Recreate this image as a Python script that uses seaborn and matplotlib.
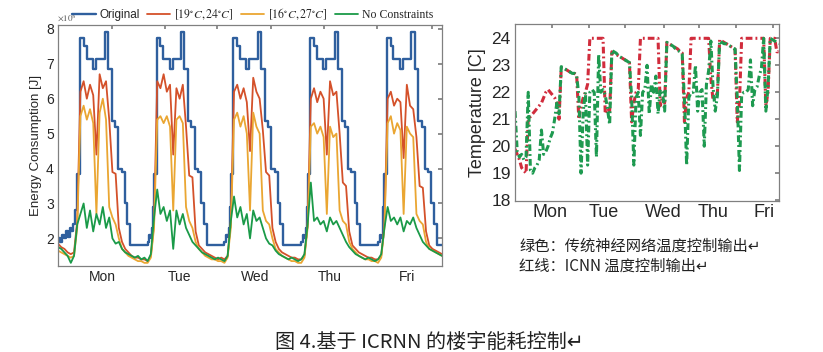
import matplotlib
matplotlib.use("Agg")
import matplotlib.pyplot as plt
import seaborn as sns

# ---------------- data (left: energy consumption, x in hours) ----------------
hours = list(range(121))

blue_t = [0, 0.6, 1.2, 1.8, 2.4, 3.0, 3.6, 4.2, 4.8, 5.4, 5.8, 6.9, 8.1, 9.0, 11.0, 11.9, 14.6, 15.6, 16.8, 17.8, 18.8, 19.9, 20.9, 21.7, 22.6,
          28.0, 28.5, 29.0, 29.4, 29.8, 30.0, 30.8, 32.0, 32.9, 34.9, 35.8, 38.5, 39.5, 40.7, 41.7, 42.7, 43.8, 44.8, 45.6, 46.5,
          52.0, 52.5, 53.0, 53.4, 53.7, 54.0, 54.7, 55.9, 56.8, 58.8, 59.7, 62.4, 63.4, 64.6, 65.6, 66.6, 67.7, 68.7, 69.5, 70.4,
          76.0, 76.5, 77.0, 77.4, 77.7, 78.0, 78.7, 79.9, 80.8, 82.8, 83.7, 86.4, 87.4, 88.6, 89.6, 90.6, 91.7, 92.7, 93.5, 94.4,
          100.0, 100.5, 101.0, 101.4, 101.7, 102.0, 102.7, 103.9, 104.8, 106.8, 107.7, 110.4, 111.4, 112.6, 113.6, 114.6, 115.6, 116.6, 117.4, 118.3, 120.0]
blue_v = [2.0, 1.9, 2.1, 2.0, 2.2, 2.05, 2.3, 2.2, 2.4, 2.8, 3.85, 7.75, 7.5, 7.15, 6.85, 7.15, 7.9, 6.85, 5.35, 5.2, 4.0, 3.9, 3.0, 2.4, 1.8,
          1.9, 2.1, 2.0, 2.3, 2.9, 3.85, 7.75, 7.5, 7.15, 6.85, 7.15, 7.9, 6.85, 5.35, 5.2, 4.0, 3.9, 3.0, 2.4, 1.8,
          1.9, 2.1, 2.05, 2.3, 2.9, 3.85, 7.75, 7.5, 7.15, 6.85, 7.15, 7.9, 6.85, 5.35, 5.2, 4.0, 3.9, 3.0, 2.4, 1.8,
          1.9, 2.1, 2.0, 2.3, 2.9, 3.85, 7.75, 7.5, 7.15, 6.85, 7.15, 7.9, 6.85, 5.35, 5.2, 4.0, 3.9, 3.0, 2.4, 1.8,
          1.9, 2.1, 2.0, 2.3, 2.9, 3.85, 7.75, 7.5, 7.15, 6.85, 7.15, 7.9, 6.85, 5.35, 5.2, 4.0, 3.9, 3.0, 2.4, 1.8, 1.8]

red_e = [1.85, 1.75, 1.7, 1.6, 1.55, 1.6, 2.5, 6.2, 6.5, 6.0, 6.4, 6.1, 4.4, 6.7, 6.3, 6.5, 5.4, 3.9, 3.85, 2.3, 1.9, 1.7, 1.6, 1.5,
         1.45, 1.45, 1.4, 1.4, 1.35, 1.5, 2.4, 6.5, 6.3, 6.7, 6.2, 6.4, 4.4, 6.3, 6.0, 6.4, 5.2, 3.8, 3.75, 2.2, 1.8, 1.7, 1.6, 1.55,
         1.5, 1.45, 1.4, 1.45, 1.4, 1.5, 2.5, 6.2, 6.4, 6.0, 6.3, 5.9, 4.5, 6.6, 6.2, 6.0, 5.1, 3.9, 3.8, 2.3, 1.9, 1.7, 1.6, 1.55,
         1.5, 1.45, 1.45, 1.4, 1.4, 1.5, 2.4, 6.0, 6.3, 5.9, 6.2, 6.0, 4.4, 6.5, 6.1, 6.2, 5.0, 3.6, 3.5, 2.2, 1.8, 1.7, 1.6, 1.55,
         1.5, 1.45, 1.45, 1.4, 1.4, 1.5, 2.4, 6.0, 6.2, 5.8, 6.0, 5.9, 4.3, 6.4, 5.8, 5.7, 4.9, 3.5, 3.45, 2.2, 1.8, 1.7, 1.65, 1.6, 1.55]

orange_e = [1.65, 1.6, 1.55, 1.5, 1.45, 1.5, 2.3, 5.5, 5.8, 5.4, 5.7, 5.3, 2.7, 5.6, 6.0, 5.4, 2.9, 2.6, 2.4, 2.0, 1.7, 1.6, 1.5, 1.45,
            1.4, 1.35, 1.35, 1.3, 1.3, 1.45, 2.3, 5.4, 5.5, 5.3, 5.5, 5.2, 2.8, 5.4, 5.5, 5.3, 2.9, 2.5, 2.3, 1.9, 1.7, 1.6, 1.5, 1.45,
            1.4, 1.4, 1.35, 1.35, 1.3, 1.45, 2.3, 5.4, 5.6, 5.2, 5.5, 5.0, 2.8, 5.6, 5.2, 5.0, 2.8, 2.5, 2.4, 2.0, 1.7, 1.6, 1.5, 1.45,
            1.4, 1.35, 1.35, 1.3, 1.3, 1.45, 2.3, 5.2, 5.3, 5.0, 5.2, 4.9, 2.7, 5.2, 4.9, 5.0, 2.8, 2.5, 2.4, 1.9, 1.7, 1.6, 1.5, 1.45,
            1.4, 1.4, 1.35, 1.35, 1.3, 1.45, 2.3, 5.3, 5.5, 5.0, 5.3, 5.1, 2.7, 5.2, 5.0, 4.9, 2.7, 2.5, 2.4, 1.9, 1.7, 1.65, 1.6, 1.55, 1.5]

green_e = [1.75, 1.7, 1.6, 1.5, 1.3, 1.5, 2.4, 2.7, 3.0, 2.3, 2.8, 2.2, 2.7, 2.4, 2.9, 2.3, 2.6, 2.0, 1.85, 1.9, 1.7, 1.6, 1.55, 1.5,
           1.45, 1.5, 1.4, 1.45, 1.35, 1.55, 2.6, 3.4, 2.7, 2.9, 2.5, 2.8, 1.7, 2.8, 2.4, 2.7, 2.3, 2.1, 1.9, 1.8, 1.7, 1.6, 1.55, 1.5,
           1.45, 1.4, 1.45, 1.4, 1.35, 1.5, 2.5, 3.2, 2.6, 2.9, 2.4, 2.7, 2.0, 2.8, 2.5, 2.6, 2.3, 2.0, 1.85, 1.8, 1.65, 1.55, 1.5, 1.45,
           1.4, 1.45, 1.4, 1.35, 1.4, 1.55, 2.4, 3.6, 2.5, 2.6, 2.4, 2.5, 2.2, 2.6, 2.4, 2.5, 2.3, 2.1, 1.9, 1.75, 1.65, 1.55, 1.5, 1.45,
           1.4, 1.45, 1.4, 1.35, 1.4, 1.55, 2.3, 2.9, 2.5, 2.6, 2.4, 2.6, 2.2, 2.5, 2.4, 2.6, 2.3, 2.1, 1.9, 1.8, 1.7, 1.65, 1.6, 1.55, 1.5]

# ---------------- data (right: temperature, x in hours) ----------------
temp_red = [19.9, 19.7, 19.5, 19.2, 19.1, 19.0,
            21.0, 21.1, 21.2, 21.3, 21.4, 21.5, 21.6, 21.8, 22.0, 22.1, 22.0, 21.9, 21.8, 21.6, 21.0,
            22.9, 22.9, 22.85, 22.8, 22.75, 22.7, 22.7, 22.65,
            21.0, 21.5, 21.8, 22.0, 22.3,
            24.0, 24.0, 24.0, 24.0, 24.0, 24.0, 24.0,
            21.2, 21.4, 21.3,
            23.5, 23.45, 23.4, 23.35, 23.3, 23.25, 23.2, 23.15, 23.1,
            20.9, 21.6, 22.0, 22.1,
            24.0, 24.0, 24.0, 24.0, 24.0, 24.0, 24.0, 24.0, 24.0,
            21.5, 21.8, 21.6,
            23.85, 23.8, 23.75, 23.7, 23.65, 23.6, 23.5, 23.45,
            20.9, 21.8, 22.0,
            24.0, 24.0, 24.0, 24.0, 24.0, 24.0, 24.0, 24.0, 24.0,
            22.5, 21.7, 21.8, 22.0,
            23.95, 23.9, 23.85, 23.8, 23.75, 23.7, 23.65, 23.6,
            20.9, 21.6,
            24.0, 24.0, 24.0, 24.0, 24.0, 24.0, 24.0, 24.0, 24.0, 24.0, 24.0,
            21.5, 22.0,
            24.0, 24.0, 24.0, 23.5, 23.5]

temp_green = [21.3, 19.8, 19.6, 19.7, 19.5, 19.6,
              22.0, 19.1, 19.0, 19.2, 19.3, 19.5, 20.6, 19.7, 19.8, 20.0, 20.3, 20.5, 21.0, 21.6, 21.2,
              22.95, 22.9, 22.85, 22.8, 22.75, 22.7, 22.7, 22.6,
              21.9, 19.0, 21.3, 22.0, 19.3, 22.0, 22.1, 22.0, 19.6, 23.4, 22.0, 22.1, 21.9, 21.4, 20.8,
              23.55, 23.5, 23.45, 23.35, 23.3, 23.25, 23.2, 23.15, 23.1,
              21.8, 19.3, 21.8, 22.0, 20.4, 22.0, 22.1, 23.0, 21.2, 22.3, 22.0, 22.6, 21.2, 22.1, 22.0, 21.3,
              23.85, 23.8, 23.75, 23.7, 23.6, 23.55, 23.5, 23.4,
              21.7, 19.3, 21.8, 22.0, 22.0, 23.0, 21.3, 22.0, 22.1, 20.0, 22.3, 22.8, 23.9, 22.2, 21.3, 21.9,
              23.9, 23.85, 23.8, 23.8, 23.75, 23.7, 23.65, 23.6,
              21.8, 19.1, 21.9, 22.0, 22.0, 22.1, 23.2, 21.5, 22.1, 22.2, 22.6, 22.9, 24.0, 21.3, 22.2,
              24.0, 23.95, 23.9, 23.85, 23.8]

days = ["Mon", "Tue", "Wed", "Thu", "Fri"]
energy_yticks = [2, 3, 4, 5, 6, 7, 8]
temp_yticks = [18, 19, 20, 21, 22, 23, 24]
legend_labels = ["Original", r"$[19^{\circ}C,24^{\circ}C]$", r"$[16^{\circ}C,27^{\circ}C]$", "No Constraints"]
note_green = "绿色：传统神经网络温度控制输出↵"
note_red = "红线：ICNN 温度控制输出↵"
caption = "图 4.基于 ICRNN 的楼宇能耗控制↵"

# ---------------- style ----------------
sns.set_theme(style="white")
plt.rcParams["font.family"] = ["Liberation Sans", "Noto Sans CJK SC", "DejaVu Sans"]
plt.rcParams["mathtext.fontset"] = "stix"
plt.rcParams["axes.edgecolor"] = "#808080"
plt.rcParams["axes.linewidth"] = 0.9

fig = plt.figure(figsize=(8.23, 3.52), dpi=100)
ax1 = fig.add_axes([0.0705, 0.2443, 0.4666, 0.6847])
ax2 = fig.add_axes([0.6258, 0.4290, 0.3208, 0.5028])

# ---------------- left chart ----------------
sns.lineplot(x=blue_t, y=blue_v, ax=ax1, color="#2f5f9e", lw=1.7, drawstyle="steps-post",
             estimator=None, label=legend_labels[0])
sns.lineplot(x=hours, y=red_e, ax=ax1, color="#d4512a", lw=1.3, estimator=None, label=legend_labels[1])
sns.lineplot(x=hours, y=orange_e, ax=ax1, color="#eaa632", lw=1.3, estimator=None, label=legend_labels[2])
sns.lineplot(x=hours, y=green_e, ax=ax1, color="#1a9a48", lw=1.3, estimator=None, label=legend_labels[3])

handles, labels = ax1.get_legend_handles_labels()
ax1.get_legend().remove()
leg = fig.legend(handles, labels, loc="center", bbox_to_anchor=(0.307, 0.96), ncol=4, frameon=False,
                 fontsize=8.5, handlelength=2.0, handletextpad=0.3, columnspacing=0.6)
for t in leg.get_texts()[1:]:
    t.set_family("Liberation Serif")

ax1.set_xlim(0, 120)
ax1.set_ylim(1.21, 8.11)
ax1.set_yticks(energy_yticks)
ax1.set_yticklabels([str(v) for v in energy_yticks])
ax1.set_xticks([16.8, 33.3, 49.8, 66.7, 83.2, 99.7, 116.8])
ax1.set_xticklabels([])
ax1.set_xticks([13.75, 38.1, 61.6, 85.0, 109.1], minor=True)
ax1.set_xticklabels(days, minor=True)
ax1.tick_params(which="major", direction="in", length=3, top=True, right=True, color="#808080",
                labelsize=10, pad=3)
ax1.tick_params(which="minor", axis="x", length=0, labelsize=10, pad=3)
ax1.set_ylabel("Energy Consumption [J]", fontsize=9.5, labelpad=3)
ax1.set_xlabel("")
fig.text(57 / 823, 1 - 18 / 352, r"$\times10^8$", fontsize=6.5, color="#555555", va="center")

# ---------------- right chart ----------------
dashdot = (0, (2.2, 1.0, 0.6, 1.0))
sns.lineplot(x=hours, y=temp_red, ax=ax2, color="#d12c3c", lw=2.2, linestyle=dashdot, estimator=None)
sns.lineplot(x=hours, y=temp_green, ax=ax2, color="#1e9a50", lw=2.2, linestyle=dashdot, estimator=None)
ax2.set_xlim(0, 120)
ax2.set_ylim(17.97, 24.53)
ax2.set_yticks(temp_yticks)
ax2.set_yticklabels([str(v) for v in temp_yticks])
ax2.set_xticks([16.8, 33.6, 50.0, 67.5, 83.6, 100.5, 117.3])
ax2.set_xticklabels([])
ax2.set_xticks([15.9, 40.5, 67.2, 90.0, 113.2], minor=True)
ax2.set_xticklabels(days, minor=True)
ax2.tick_params(which="major", direction="in", length=3, top=True, right=True, color="#808080",
                labelsize=12.5, pad=3)
ax2.tick_params(which="minor", axis="x", length=0, labelsize=13, pad=2)
ax2.set_ylabel("Temperature [C]", fontsize=13, labelpad=4)
ax2.set_xlabel("")

# ---------------- notes & caption ----------------
cjk = ["Noto Sans CJK SC", "DejaVu Sans"]
fig.text(519 / 823, 1 - 246 / 352, note_green, fontsize=11, va="center", ha="left", family=cjk, color="#222222")
fig.text(519 / 823, 1 - 266 / 352, note_red, fontsize=11, va="center", ha="left", family=cjk, color="#222222")
fig.text(275 / 823, 1 - 342 / 352, caption, fontsize=14.5, va="center", ha="left", family=cjk, color="#222222")

fig.savefig("out.png", dpi=100)
